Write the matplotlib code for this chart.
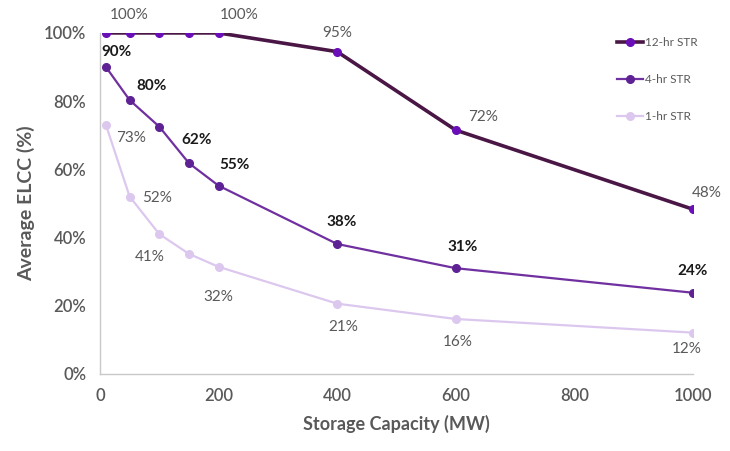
import matplotlib
matplotlib.use("Agg")
import matplotlib.pyplot as plt
from matplotlib.ticker import PercentFormatter

plt.rcParams["font.family"] = ["Lato", "DejaVu Sans"]

capacity_mw = [10, 50, 100, 150, 200, 400, 600, 1000]
elcc_12hr = [100, 100, 100, 100, 100, 94.5, 71.5, 48.3]
elcc_4hr = [90, 80.3, 72.5, 61.8, 55.2, 38.1, 31.0, 23.8]
elcc_1hr = [73, 52, 41, 35.2, 31.4, 20.6, 16.1, 12.1]

# (index, text, dx px, dy px) for the data labels on each series
labels_12hr = [(1, "100%", 0, 18), (4, "100%", 21, 18), (5, "95%", 0, 19),
               (6, "72%", 27, 13), (7, "48%", 14, 16)]
labels_4hr = [(0, "90%", 11, 15), (1, "80%", 22, 14), (3, "62%", 8, 23),
              (4, "55%", 16, 21), (5, "38%", 5, 22), (6, "31%", 7, 21),
              (7, "24%", 0, 22)]
labels_1hr = [(0, "73%", 25, -13), (1, "52%", 27, -1), (2, "41%", -10, -23),
              (4, "32%", 0, -30), (5, "21%", 6, -23), (6, "16%", 2, -23),
              (7, "12%", -6, -16)]

c12_line, c12_mark = "#4a1646", "#6a0fb8"
c4, c4_mark = "#7030a0", "#5e2294"
c1 = "#dcc8ee"
text_gray = "#595959"

fig = plt.figure(figsize=(7.3, 4.51), dpi=100)
ax = fig.add_axes([0.137, 0.171, 0.812, 0.756])

ax.plot(capacity_mw, elcc_12hr, color=c12_line, lw=2.6, marker="o", ms=5.5,
        mfc=c12_mark, mec=c12_mark, label="12-hr STR", zorder=4)
ax.plot(capacity_mw, elcc_4hr, color=c4, lw=1.6, marker="o", ms=5.5,
        mfc=c4_mark, mec=c4_mark, label="4-hr STR", zorder=3)
ax.plot(capacity_mw, elcc_1hr, color=c1, lw=1.6, marker="o", ms=5.5,
        mfc=c1, mec=c1, label="1-hr STR", zorder=2)

for vals, labs, col, weight in [(elcc_12hr, labels_12hr, text_gray, "normal"),
                                (elcc_4hr, labels_4hr, "#1a1a1a", "bold"),
                                (elcc_1hr, labels_1hr, text_gray, "normal")]:
    for i, txt, dx, dy in labs:
        ax.annotate(txt, (capacity_mw[i], vals[i]), xytext=(dx, dy),
                    textcoords="offset pixels", ha="center", va="center",
                    fontsize=11, color=col, fontweight=weight,
                    annotation_clip=False)

ax.set_xlim(0, 1000)
ax.set_ylim(0, 100)
ax.set_xticks([0, 200, 400, 600, 800, 1000])
ax.set_yticks([0, 20, 40, 60, 80, 100])
ax.yaxis.set_major_formatter(PercentFormatter(decimals=0))
ax.tick_params(length=0, labelsize=12, colors=text_gray, pad=10)
for lab in ax.get_xticklabels() + ax.get_yticklabels():
    lab.set_fontweight("semibold")

for side in ["top", "right"]:
    ax.spines[side].set_visible(False)
for side in ["left", "bottom"]:
    ax.spines[side].set_color("#c8c8c8")
    ax.spines[side].set_linewidth(1.0)

ax.set_xlabel("Storage Capacity (MW)", fontsize=13, fontweight="bold",
              color=text_gray, labelpad=8)
ax.set_ylabel("Average ELCC (%)", fontsize=14, fontweight="bold",
              color=text_gray, labelpad=6)

leg = ax.legend(loc="upper left", bbox_to_anchor=(0.855, 1.02), frameon=False,
                fontsize=8.5, labelspacing=2.2, handlelength=2.2, handletextpad=0.1)
for t in leg.get_texts():
    t.set_color(text_gray)

fig.savefig("out.png", dpi=100)
